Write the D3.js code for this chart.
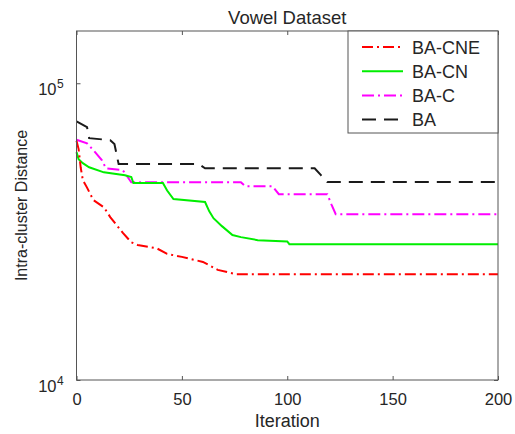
<!DOCTYPE html>
<html>
<head>
<meta charset="utf-8">
<script src="https://cdn.jsdelivr.net/npm/d3@7"></script>
<style>
  body { margin: 0; background: #fff; }
  text { font-family: Arial, "Liberation Sans", sans-serif; fill: #262626; }
</style>
</head>
<body>
<svg id="chart" width="515" height="434"></svg>
<script>
// data (iteration, intra-cluster distance)
var itCNE = [0, 1, 2, 3, 5, 8, 13, 16, 22, 26, 29, 38, 43, 50, 60, 67, 76, 200];
var valCNE = [64000, 60000, 52000, 47200, 44500, 40400, 38200, 35400, 31300, 29100, 28500, 27800, 26600, 26000, 25000, 23500, 22700, 22700];

var itCN = [0, 1, 3, 6, 13, 23, 26, 27, 41, 43, 46, 61, 63, 65, 69, 74, 78, 86, 100, 101, 200];
var valCN = [58600, 55500, 53800, 52100, 50100, 49000, 48300, 46100, 46100, 43500, 40700, 39800, 37000, 35100, 33000, 30800, 30300, 29600, 29300, 28700, 28700];

var itC = [0, 5, 8, 12, 14, 22, 26, 78, 80, 93, 96, 119, 121, 123, 200];
var valC = [64500, 62700, 59500, 55100, 51700, 50900, 46400, 46400, 45000, 45000, 42300, 42300, 39000, 36200, 36200];

var itBA = [0, 5, 6, 16, 18, 20, 58, 61, 113, 116, 119, 200];
var valBA = [74400, 71100, 65300, 64300, 62400, 53400, 53400, 51700, 51700, 49000, 46500, 46500];

var names = ["BA-CNE", "BA-CN", "BA-C", "BA"];
var colors = ["#ff0000", "#00ee00", "#ff00ff", "#1a1a1a"];
var dashes = ["11,4,2,4", null, "12,4,2,4", "14,8"];

var svg = d3.select("#chart");
var pLeft = 76.5, pRight = 498, pTop = 31, pBottom = 380;

var x = d3.scaleLinear().domain([0, 200]).range([pLeft, pRight]);
var y = d3.scaleLog().domain([1e4, 1.5e5]).range([pBottom, pTop]);

var series = [
  d3.zip(itCNE, valCNE),
  d3.zip(itCN, valCN),
  d3.zip(itC, valC),
  d3.zip(itBA, valBA)
];

var line = d3.line()
  .x(function(d) { return x(d[0]); })
  .y(function(d) { return y(d[1]); });

// linije - BA ide prva da bi bila ispod
var g = svg.append("g");
for (var i = series.length - 1; i >= 0; i--) {
  g.append("path")
    .datum(series[i])
    .attr("d", line)
    .attr("fill", "none")
    .attr("stroke", colors[i])
    .attr("stroke-width", 2)
    .attr("stroke-dasharray", dashes[i]);
}

// okvir
svg.append("rect")
  .attr("x", pLeft).attr("y", pTop)
  .attr("width", pRight - pLeft).attr("height", pBottom - pTop)
  .attr("fill", "none")
  .attr("stroke", "#555")
  .attr("stroke-width", 1);

// x osa
var xAxis = svg.append("g")
  .attr("transform", "translate(0," + pBottom + ")")
  .call(d3.axisBottom(x).tickValues([0, 50, 100, 150, 200]).tickSize(-4).tickPadding(13));
xAxis.select(".domain").remove();
xAxis.selectAll("line").attr("stroke", "#555");
xAxis.selectAll("text").attr("font-size", 16.5).attr("fill", "#262626")
  .attr("font-family", "Arial, 'Liberation Sans', sans-serif");

// gornji tikovi
svg.append("g")
  .attr("transform", "translate(0," + pTop + ")")
  .call(d3.axisTop(x).tickValues([0, 50, 100, 150, 200]).tickSize(-4).tickFormat(""))
  .call(function(a) { a.select(".domain").remove(); a.selectAll("line").attr("stroke", "#555"); });

// y osa
var yAxis = svg.append("g")
  .attr("transform", "translate(" + pLeft + ",0)")
  .call(d3.axisLeft(y).tickValues([1e4, 1e5]).tickSize(-4).tickFormat(""));
yAxis.select(".domain").remove();
yAxis.selectAll("line").attr("stroke", "#555");
yAxis.selectAll(".tick").each(function(d) {
  d3.select(this).append("text")
    .attr("x", -20)
    .attr("y", 11)
    .attr("text-anchor", "end")
    .attr("font-size", 16.5)
    .attr("fill", "#262626")
    .attr("font-family", "Arial, 'Liberation Sans', sans-serif")
    .text("10");
  d3.select(this).append("text")
    .attr("x", -19.5)
    .attr("y", 4)
    .attr("text-anchor", "start")
    .attr("font-size", 12)
    .attr("fill", "#262626")
    .attr("font-family", "Arial, 'Liberation Sans', sans-serif")
    .text(Math.round(Math.log10(d)));
});

// desni tikovi
svg.append("g")
  .attr("transform", "translate(" + pRight + ",0)")
  .call(d3.axisRight(y).tickValues([1e4, 1e5]).tickSize(-4).tickFormat(""))
  .call(function(a) { a.select(".domain").remove(); a.selectAll("line").attr("stroke", "#555"); });

// naslovi
svg.append("text")
  .attr("x", (pLeft + pRight) / 2)
  .attr("y", 24)
  .attr("text-anchor", "middle")
  .attr("font-size", 18.5)
  .text("Vowel Dataset");

svg.append("text")
  .attr("x", (pLeft + pRight) / 2)
  .attr("y", 427)
  .attr("text-anchor", "middle")
  .attr("font-size", 18)
  .text("Iteration");

svg.append("text")
  .attr("transform", "translate(27," + ((pTop + pBottom) / 2) + ") rotate(-90)")
  .attr("text-anchor", "middle")
  .attr("font-size", 16)
  .text("Intra-cluster Distance");

// legenda
var lg = svg.append("g");
lg.append("rect")
  .attr("x", 348).attr("y", pTop)
  .attr("width", pRight - 348).attr("height", 102)
  .attr("fill", "#fff")
  .attr("stroke", "#555")
  .attr("stroke-width", 1);

names.forEach(function(n, i) {
  var yy = 47 + i * 24.2;
  lg.append("line")
    .attr("x1", 362).attr("x2", 403)
    .attr("y1", yy).attr("y2", yy)
    .attr("stroke", colors[i])
    .attr("stroke-width", 2)
    .attr("stroke-dasharray", dashes[i]);
  lg.append("text")
    .attr("x", 412)
    .attr("y", yy + 6.5)
    .attr("font-size", 18)
    .text(n);
});
</script>
</body>
</html>
